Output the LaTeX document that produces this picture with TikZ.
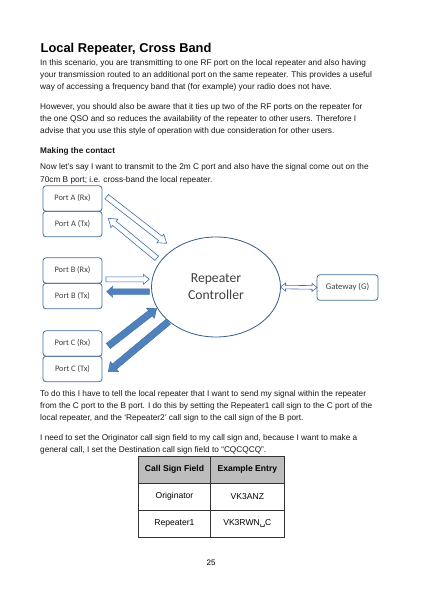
\documentclass[tikz,border=0pt]{standalone}
\usepackage{fontspec}
\setmainfont{Liberation Sans}
\newfontfamily\diagfont{Carlito}
\newfontfamily\symfont{DejaVu Sans}
\usetikzlibrary{shapes.geometric,calc,positioning}

\definecolor{boxblue}{HTML}{41719C}
\definecolor{arrblue}{HTML}{4F81BD}
\definecolor{arrline}{HTML}{3F6FA8}
\definecolor{ellblue}{HTML}{385D8A}
\definecolor{diagtext}{HTML}{404040}
\definecolor{hdrgray}{HTML}{BDBDBD}

\tikzstyle{port} = [draw=boxblue,rounded corners=3bp,minimum width=59bp,minimum height=25.5bp,inner sep=0pt,outer sep=0pt,line width=0.8bp,text=diagtext,font=\diagfont\fontsize{8.4}{10}\selectfont]
\tikzstyle{openarr} = [draw=arrline,fill=white,line width=0.6bp,line join=miter]
\tikzstyle{fullarr} = [draw=arrline,fill=arrblue,line width=0.4bp,line join=miter]
\tikzstyle{body} = [anchor=base west,inner sep=0pt,text=black!90,font=\fontsize{8.3}{12}\selectfont]
\tikzstyle{cell} = [draw=black!80,line width=1bp,minimum height=27bp,inner sep=0pt,font=\fontsize{8.6}{10}\selectfont]

% #1 style, #2 from, #3 to, #4 shaft half width, #5 head half width, #6 head length
\newcommand\blockarrow[6]{%
  \coordinate (hb) at ($(#3)!#6!(#2)$);
  \draw[#1] ($(#2)!#4!90:(#3)$) -- ($(hb)!#4!-90:(#2)$) -- ($(hb)!#5!-90:(#2)$) -- (#3)
    -- ($(hb)!#5!90:(#2)$) -- ($(hb)!#4!90:(#2)$) -- ($(#2)!#4!-90:(#3)$) -- cycle;
}
% same, with a head at both ends
\newcommand\twinarrow[6]{%
  \coordinate (ha) at ($(#2)!#6!(#3)$);
  \coordinate (hb) at ($(#3)!#6!(#2)$);
  \draw[#1] (#2) -- ($(ha)!#5!90:(#3)$) -- ($(ha)!#4!90:(#3)$) -- ($(hb)!#4!-90:(#2)$)
    -- ($(hb)!#5!-90:(#2)$) -- (#3) -- ($(hb)!#5!90:(#2)$) -- ($(hb)!#4!90:(#2)$)
    -- ($(ha)!#4!-90:(#3)$) -- ($(ha)!#5!-90:(#3)$) -- cycle;
}

\begin{document}
\begin{tikzpicture}[x=1bp,y=-1bp]
\useasboundingbox[fill=white] (0,0) rectangle (423,598);

% text above the diagram
\node[anchor=base west,inner sep=0pt,font=\bfseries\fontsize{12.9}{15}\selectfont] (title) at (40.5,52.5) {Local Repeater, Cross Band};
\foreach \yy/\txt [count=\i] in {
  66/{In this scenario, you are transmitting to one RF port on the local repeater and also having},
  78/{your transmission routed to an additional port on the same repeater. This provides a useful},
  90/{way of accessing a frequency band that (for example) your radio does not have.},
  110/{However, you should also be aware that it ties up two of the RF ports on the repeater for},
  122/{the one QSO and so reduces the availability of the repeater to other users. Therefore I},
  134/{advise that you use this style of operation with due consideration for other users.},
  170/{Now let’s say I want to transmit to the 2m C port and also have the signal come out on the},
  182/{70cm B port; i.e. cross-band the local repeater.}}
  \node[body] (top\i) at (40,\yy) {\txt};
\node[body,font=\bfseries\fontsize{8.3}{12}\selectfont] (making) at (40,154) {Making the contact};

% diagram
\node[port] (pArx) at (72.5,198.5) {Port A (Rx)};
\node[port,below=0pt of pArx] (pAtx) {Port A (Tx)};
\node[port] (pBrx) at (72.5,270.5) {Port B (Rx)};
\node[port,below=0pt of pBrx] (pBtx) {Port B (Tx)};
\node[port] (pCrx) at (72.5,343.5) {Port C (Rx)};
\node[port,below=0pt of pCrx] (pCtx) {Port C (Tx)};
\node[ellipse,draw=ellblue,line width=0.8bp,minimum width=129bp,minimum height=100bp,inner sep=0pt,outer sep=0pt,align=center,text=diagtext,font=\diagfont\fontsize{13.7}{17}\selectfont] (ctrl) at (216,287) {Repeater\\Controller};
\node[port,minimum width=61bp,font=\diagfont\fontsize{8.7}{10}\selectfont] (gw) at (347.5,287.5) {Gateway (G)};

\coordinate (aRs) at (106.7,196.7); \coordinate (aRe) at (166.7,243.3);
\coordinate (aTs) at (156.7,258.3); \coordinate (aTe) at (108.3,218.3);
\coordinate (bRs) at (106,279.3);   \coordinate (bRe) at (149.3,279.3);
\coordinate (bTs) at (149.3,291.7); \coordinate (bTe) at (106.7,291.7);
\coordinate (cRs) at (108.3,346);   \coordinate (cRe) at (156.7,308.3);
\coordinate (cTs) at (168.3,321.7); \coordinate (cTe) at (108.3,371.7);

\blockarrow{openarr}{aRs}{aRe}{2.8bp}{5.5bp}{8bp}
\blockarrow{openarr}{aTs}{aTe}{2.8bp}{5.5bp}{8bp}
\blockarrow{openarr}{bRs}{bRe}{2.5bp}{5bp}{6bp}
\blockarrow{fullarr}{bTs}{bTe}{2.8bp}{5.5bp}{6bp}
\blockarrow{fullarr}{cRs}{cRe}{3.3bp}{6.5bp}{8bp}
\blockarrow{fullarr}{cTs}{cTe}{3.3bp}{6.5bp}{8bp}
\twinarrow{openarr}{ctrl.east}{gw.west}{1.8bp}{4bp}{5bp}

% text below the diagram
\foreach \yy/\txt [count=\i] in {
  396/{To do this I have to tell the local repeater that I want to send my signal within the repeater},
  408/{from the C port to the B port. I do this by setting the Repeater1 call sign to the C port of the},
  420/{local repeater, and the ‘Repeater2’ call sign to the call sign of the B port.},
  440/{I need to set the Originator call sign field to my call sign and, because I want to make a},
  452/{general call, I set the Destination call sign field to “CQCQCQ”.}}
  \node[body] (low\i) at (40,\yy) {\txt};

% table
\node[cell,fill=hdrgray,minimum width=72.4bp,font=\bfseries\fontsize{8.6}{10}\selectfont] (h1) at (174.5,469.5) {Call Sign Field};
\node[cell,fill=hdrgray,minimum width=73.3bp,font=\bfseries\fontsize{8.6}{10}\selectfont] (h2) at (247.35,469.5) {Example Entry};
\node[cell,minimum width=72.4bp] (r1a) at (174.5,496.5) {Originator};
\node[cell,minimum width=73.3bp] (r1b) at (247.35,496.5) {VK3ANZ};
\node[cell,minimum width=72.4bp] (r2a) at (174.5,523.5) {Repeater1};
\node[cell,minimum width=73.3bp] (r2b) at (247.35,523.5) {VK3RWN{\symfont ␣}C};

\node[inner sep=0pt,font=\fontsize{8}{9}\selectfont] (pagenum) at (211,563) {25};
\end{tikzpicture}
\end{document}
